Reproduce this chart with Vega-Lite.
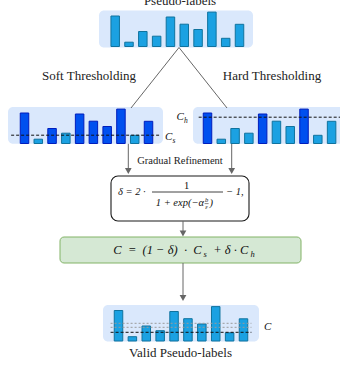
{
  "$schema": "https://vega.github.io/schema/vega-lite/v6.json",
  "width": 340,
  "height": 366,
  "padding": 0,
  "autosize": "none",
  "background": "white",
  "config": {"view": {"stroke": null}, "text": {"font": "Liberation Serif", "color": "#222"}},
  "datasets": {
    "bars": [
      {"panel": "top", "i": 1, "v": 30.5, "selected": "no"},
      {"panel": "top", "i": 2, "v": 4.3, "selected": "no"},
      {"panel": "top", "i": 3, "v": 15, "selected": "no"},
      {"panel": "top", "i": 4, "v": 10.3, "selected": "no"},
      {"panel": "top", "i": 5, "v": 29.5, "selected": "no"},
      {"panel": "top", "i": 6, "v": 22.3, "selected": "no"},
      {"panel": "top", "i": 7, "v": 17, "selected": "no"},
      {"panel": "top", "i": 8, "v": 34.4, "selected": "no"},
      {"panel": "top", "i": 9, "v": 8.2, "selected": "no"},
      {"panel": "top", "i": 10, "v": 22.2, "selected": "no"},
      {"panel": "left", "i": 1, "v": 30.5, "selected": "yes"},
      {"panel": "left", "i": 2, "v": 4.3, "selected": "no"},
      {"panel": "left", "i": 3, "v": 15, "selected": "yes"},
      {"panel": "left", "i": 4, "v": 10.3, "selected": "no"},
      {"panel": "left", "i": 5, "v": 29.5, "selected": "yes"},
      {"panel": "left", "i": 6, "v": 22.3, "selected": "yes"},
      {"panel": "left", "i": 7, "v": 17, "selected": "yes"},
      {"panel": "left", "i": 8, "v": 34.4, "selected": "yes"},
      {"panel": "left", "i": 9, "v": 8.2, "selected": "no"},
      {"panel": "left", "i": 10, "v": 22.2, "selected": "yes"},
      {"panel": "right", "i": 1, "v": 30.5, "selected": "yes"},
      {"panel": "right", "i": 2, "v": 4.3, "selected": "no"},
      {"panel": "right", "i": 3, "v": 15, "selected": "no"},
      {"panel": "right", "i": 4, "v": 10.3, "selected": "no"},
      {"panel": "right", "i": 5, "v": 29.5, "selected": "yes"},
      {"panel": "right", "i": 6, "v": 22.3, "selected": "no"},
      {"panel": "right", "i": 7, "v": 17, "selected": "no"},
      {"panel": "right", "i": 8, "v": 34.4, "selected": "yes"},
      {"panel": "right", "i": 9, "v": 8.2, "selected": "no"},
      {"panel": "right", "i": 10, "v": 22.2, "selected": "no"},
      {"panel": "bottom", "i": 1, "v": 30.5, "selected": "no"},
      {"panel": "bottom", "i": 2, "v": 4.3, "selected": "no"},
      {"panel": "bottom", "i": 3, "v": 15, "selected": "no"},
      {"panel": "bottom", "i": 4, "v": 10.3, "selected": "no"},
      {"panel": "bottom", "i": 5, "v": 29.5, "selected": "no"},
      {"panel": "bottom", "i": 6, "v": 22.3, "selected": "no"},
      {"panel": "bottom", "i": 7, "v": 17, "selected": "no"},
      {"panel": "bottom", "i": 8, "v": 34.4, "selected": "no"},
      {"panel": "bottom", "i": 9, "v": 8.2, "selected": "no"},
      {"panel": "bottom", "i": 10, "v": 22.2, "selected": "no"}
    ],
    "thresholds": [
      {"panel": "left", "t": 8.3, "kind": "main"},
      {"panel": "right", "t": 26.3, "kind": "main"},
      {"panel": "bottom", "t": 17.7, "kind": "aux"},
      {"panel": "bottom", "t": 13.7, "kind": "aux"},
      {"panel": "bottom", "t": 8.7, "kind": "main"}
    ],
    "boxes": [
      {"role": "panel", "x1": 99, "x2": 253, "y1": 10.5, "y2": 47.5},
      {"role": "panel", "x1": 8, "x2": 163, "y1": 107, "y2": 143.8},
      {"role": "panel", "x1": 193, "x2": 352, "y1": 107, "y2": 143.8},
      {"role": "panel", "x1": 103, "x2": 259, "y1": 305, "y2": 341.5},
      {"role": "formula", "x1": 111, "x2": 249, "y1": 176, "y2": 221},
      {"role": "green", "x1": 60, "x2": 301, "y1": 237, "y2": 263}
    ],
    "lines": [
      {"role": "split", "x1": 179, "y1": 47.5, "x2": 131, "y2": 108},
      {"role": "split", "x1": 179, "y1": 47.5, "x2": 227, "y2": 108},
      {"role": "arrow", "x1": 128.3, "y1": 143.8, "x2": 128.3, "y2": 170},
      {"role": "arrow", "x1": 231.7, "y1": 143.8, "x2": 231.7, "y2": 170},
      {"role": "arrow", "x1": 183, "y1": 221, "x2": 183, "y2": 232},
      {"role": "arrow", "x1": 183, "y1": 263, "x2": 183, "y2": 296},
      {"role": "frac", "x1": 152, "y1": 192, "x2": 223, "y2": 192},
      {"role": "smallfrac", "x1": 204.6, "y1": 203.6, "x2": 208.6, "y2": 203.6}
    ],
    "heads": [
      {"x": 128.3, "y": 171},
      {"x": 231.7, "y": 171},
      {"x": 183, "y": 233.5},
      {"x": 183, "y": 298}
    ],
    "texts": [
      {"role": "label", "text": "Pseudo-labels", "x": 180, "y": 4.5},
      {"role": "label", "text": "Soft Thresholding", "x": 89, "y": 80},
      {"role": "label", "text": "Hard Thresholding", "x": 272, "y": 80},
      {"role": "label", "text": "Valid Pseudo-labels", "x": 180.5, "y": 357},
      {"role": "small", "text": "Gradual Refinement", "x": 180, "y": 163.5},
      {"role": "mathL", "text": "δ = 2 ·", "x": 118, "y": 195},
      {"role": "mathL", "text": "− 1,", "x": 226, "y": 195},
      {"role": "mathC", "text": "1", "x": 186.7, "y": 189},
      {"role": "mathR", "text": "1 + exp(−α", "x": 204, "y": 206},
      {"role": "mathL", "text": ")", "x": 209.5, "y": 206},
      {"role": "tiny", "text": "b", "x": 206.6, "y": 202.3},
      {"role": "tiny", "text": "ε", "x": 206.6, "y": 208.6},
      {"role": "mathG", "text": "C\u2002=\u2002(1 − δ)\u2002·\u2002C", "x": 113.3, "y": 254},
      {"role": "subG", "text": "s", "x": 203.5, "y": 257},
      {"role": "mathG", "text": "+ δ · C", "x": 213.3, "y": 254},
      {"role": "subG", "text": "h", "x": 250.5, "y": 257},
      {"role": "mathT", "text": "C", "x": 165, "y": 140},
      {"role": "subT", "text": "s", "x": 172.5, "y": 142.5},
      {"role": "mathT", "text": "C", "x": 176.5, "y": 120},
      {"role": "subT", "text": "h", "x": 184, "y": 122.5},
      {"role": "mathT", "text": "C", "x": 264, "y": 330}
    ]
  },
  "layer": [
    {
      "encoding": {
        "x": {"field": "x1", "type": "quantitative", "scale": {"domain": [0, 340], "zero": false, "nice": false}, "axis": null},
        "y": {"field": "y1", "type": "quantitative", "scale": {"domain": [0, 366], "reverse": true, "zero": false, "nice": false}, "axis": null}
      },
      "layer": [
        {"data": {"name": "boxes"}, "transform": [{"filter": "datum.role === 'panel'"}],
         "mark": {"type": "rect", "fill": "#dae8fc", "cornerRadius": 5},
         "encoding": {"x2": {"field": "x2"}, "y2": {"field": "y2"}}},
        {"data": {"name": "boxes"}, "transform": [{"filter": "datum.role === 'formula'"}],
         "mark": {"type": "rect", "fill": "white", "stroke": "#1a1a1a", "strokeWidth": 1.1, "cornerRadius": 7},
         "encoding": {"x2": {"field": "x2"}, "y2": {"field": "y2"}}},
        {"data": {"name": "boxes"}, "transform": [{"filter": "datum.role === 'green'"}],
         "mark": {"type": "rect", "fill": "#d5e8d4", "stroke": "#82b366", "strokeWidth": 1, "cornerRadius": 4},
         "encoding": {"x2": {"field": "x2"}, "y2": {"field": "y2"}}},
        {"data": {"name": "lines"}, "transform": [{"filter": "datum.role === 'split'"}],
         "mark": {"type": "rule", "color": "#555555", "strokeWidth": 0.9},
         "encoding": {"x2": {"field": "x2"}, "y2": {"field": "y2"}}},
        {"data": {"name": "lines"}, "transform": [{"filter": "datum.role === 'arrow'"}],
         "mark": {"type": "rule", "color": "#666666", "strokeWidth": 1},
         "encoding": {"x2": {"field": "x2"}, "y2": {"field": "y2"}}},
        {"data": {"name": "lines"}, "transform": [{"filter": "datum.role === 'frac'"}],
         "mark": {"type": "rule", "color": "#111111", "strokeWidth": 0.8},
         "encoding": {"x2": {"field": "x2"}, "y2": {"field": "y2"}}},
        {"data": {"name": "lines"}, "transform": [{"filter": "datum.role === 'smallfrac'"}],
         "mark": {"type": "rule", "color": "#111111", "strokeWidth": 0.5},
         "encoding": {"x2": {"field": "x2"}, "y2": {"field": "y2"}}},
        {"data": {"name": "heads"},
         "mark": {"type": "point", "shape": "triangle-down", "filled": true, "color": "#666666", "size": 45, "opacity": 1},
         "encoding": {"x": {"field": "x", "type": "quantitative"}, "y": {"field": "y", "type": "quantitative"}}},
        {"data": {"name": "texts"}, "transform": [{"filter": "datum.role === 'label'"}],
         "mark": {"type": "text", "fontSize": 13, "align": "center", "baseline": "alphabetic"},
         "encoding": {"x": {"field": "x", "type": "quantitative"}, "y": {"field": "y", "type": "quantitative"}, "text": {"field": "text"}}},
        {"data": {"name": "texts"}, "transform": [{"filter": "datum.role === 'small'"}],
         "mark": {"type": "text", "fontSize": 10.5, "align": "center", "baseline": "alphabetic"},
         "encoding": {"x": {"field": "x", "type": "quantitative"}, "y": {"field": "y", "type": "quantitative"}, "text": {"field": "text"}}},
        {"data": {"name": "texts"}, "transform": [{"filter": "datum.role === 'mathL'"}],
         "mark": {"type": "text", "fontSize": 10.5, "fontStyle": "italic", "align": "left", "baseline": "alphabetic", "color": "#111"},
         "encoding": {"x": {"field": "x", "type": "quantitative"}, "y": {"field": "y", "type": "quantitative"}, "text": {"field": "text"}}},
        {"data": {"name": "texts"}, "transform": [{"filter": "datum.role === 'mathC'"}],
         "mark": {"type": "text", "fontSize": 10.5, "align": "center", "baseline": "alphabetic", "color": "#111"},
         "encoding": {"x": {"field": "x", "type": "quantitative"}, "y": {"field": "y", "type": "quantitative"}, "text": {"field": "text"}}},
        {"data": {"name": "texts"}, "transform": [{"filter": "datum.role === 'mathR'"}],
         "mark": {"type": "text", "fontSize": 10.5, "fontStyle": "italic", "align": "right", "baseline": "alphabetic", "color": "#111"},
         "encoding": {"x": {"field": "x", "type": "quantitative"}, "y": {"field": "y", "type": "quantitative"}, "text": {"field": "text"}}},
        {"data": {"name": "texts"}, "transform": [{"filter": "datum.role === 'tiny'"}],
         "mark": {"type": "text", "fontSize": 6.5, "fontStyle": "italic", "align": "center", "baseline": "alphabetic", "color": "#111"},
         "encoding": {"x": {"field": "x", "type": "quantitative"}, "y": {"field": "y", "type": "quantitative"}, "text": {"field": "text"}}},
        {"data": {"name": "texts"}, "transform": [{"filter": "datum.role === 'mathG'"}],
         "mark": {"type": "text", "fontSize": 12.5, "fontStyle": "italic", "align": "left", "baseline": "alphabetic", "color": "#111"},
         "encoding": {"x": {"field": "x", "type": "quantitative"}, "y": {"field": "y", "type": "quantitative"}, "text": {"field": "text"}}},
        {"data": {"name": "texts"}, "transform": [{"filter": "datum.role === 'subG'"}],
         "mark": {"type": "text", "fontSize": 8.5, "fontStyle": "italic", "align": "left", "baseline": "alphabetic", "color": "#111"},
         "encoding": {"x": {"field": "x", "type": "quantitative"}, "y": {"field": "y", "type": "quantitative"}, "text": {"field": "text"}}},
        {"data": {"name": "texts"}, "transform": [{"filter": "datum.role === 'mathT'"}],
         "mark": {"type": "text", "fontSize": 11, "fontStyle": "italic", "align": "left", "baseline": "alphabetic", "color": "#111"},
         "encoding": {"x": {"field": "x", "type": "quantitative"}, "y": {"field": "y", "type": "quantitative"}, "text": {"field": "text"}}},
        {"data": {"name": "texts"}, "transform": [{"filter": "datum.role === 'subT'"}],
         "mark": {"type": "text", "fontSize": 7.5, "fontStyle": "italic", "align": "left", "baseline": "alphabetic", "color": "#111"},
         "encoding": {"x": {"field": "x", "type": "quantitative"}, "y": {"field": "y", "type": "quantitative"}, "text": {"field": "text"}}}
      ]
    },
    {
      "layer": [
        {"data": {"name": "bars"}, "transform": [{"filter": "datum.panel === 'top'"}],
         "mark": {"type": "bar", "width": 8.5, "strokeWidth": 1},
         "encoding": {
           "x": {"field": "i", "type": "quantitative", "scale": {"domain": [1, 10], "range": [110.2, 244.5], "zero": false, "nice": false}, "axis": null},
           "y": {"field": "v", "type": "quantitative", "scale": {"domain": [0, 40], "range": [46.5, 6.5], "nice": false}, "axis": null},
           "fill": {"field": "selected", "type": "nominal", "scale": {"domain": ["no", "yes"], "range": ["#1ba1e2", "#0050ef"]}, "legend": null},
           "stroke": {"field": "selected", "type": "nominal", "scale": {"domain": ["no", "yes"], "range": ["#10739e", "#001dbc"]}, "legend": null}
         }}
      ]
    },
    {
      "layer": [
        {"data": {"name": "bars"}, "transform": [{"filter": "datum.panel === 'left'"}],
         "mark": {"type": "bar", "width": 8.5, "strokeWidth": 1},
         "encoding": {
           "x": {"field": "i", "type": "quantitative", "scale": {"domain": [1, 10], "range": [19.5, 153.5], "zero": false, "nice": false}, "axis": null},
           "y": {"field": "v", "type": "quantitative", "scale": {"domain": [0, 40], "range": [143.5, 103.5], "nice": false}, "axis": null},
           "fill": {"field": "selected", "type": "nominal", "scale": {"domain": ["no", "yes"], "range": ["#1ba1e2", "#0050ef"]}, "legend": null},
           "stroke": {"field": "selected", "type": "nominal", "scale": {"domain": ["no", "yes"], "range": ["#10739e", "#001dbc"]}, "legend": null}
         }},
        {"data": {"name": "thresholds"}, "transform": [{"filter": "datum.panel === 'left'"}],
         "mark": {"type": "rule", "strokeDash": [3, 2], "color": "#111111", "strokeWidth": 1},
         "encoding": {
           "x": {"datum": 0.03, "type": "quantitative", "scale": {"domain": [1, 10], "range": [19.5, 153.5], "zero": false, "nice": false}, "axis": null},
           "x2": {"datum": 10.77},
           "y": {"field": "t", "type": "quantitative", "scale": {"domain": [0, 40], "range": [143.5, 103.5], "nice": false}, "axis": null}
         }}
      ]
    },
    {
      "layer": [
        {"data": {"name": "bars"}, "transform": [{"filter": "datum.panel === 'right'"}],
         "mark": {"type": "bar", "width": 8.5, "strokeWidth": 1},
         "encoding": {
           "x": {"field": "i", "type": "quantitative", "scale": {"domain": [1, 10], "range": [202.5, 336.6], "zero": false, "nice": false}, "axis": null},
           "y": {"field": "v", "type": "quantitative", "scale": {"domain": [0, 40], "range": [143.5, 103.5], "nice": false}, "axis": null},
           "fill": {"field": "selected", "type": "nominal", "scale": {"domain": ["no", "yes"], "range": ["#1ba1e2", "#0050ef"]}, "legend": null},
           "stroke": {"field": "selected", "type": "nominal", "scale": {"domain": ["no", "yes"], "range": ["#10739e", "#001dbc"]}, "legend": null}
         }},
        {"data": {"name": "thresholds"}, "transform": [{"filter": "datum.panel === 'right'"}],
         "mark": {"type": "rule", "strokeDash": [3, 2], "color": "#111111", "strokeWidth": 1},
         "encoding": {
           "x": {"datum": 0.36, "type": "quantitative", "scale": {"domain": [1, 10], "range": [202.5, 336.6], "zero": false, "nice": false}, "axis": null},
           "x2": {"datum": 11},
           "y": {"field": "t", "type": "quantitative", "scale": {"domain": [0, 40], "range": [143.5, 103.5], "nice": false}, "axis": null}
         }}
      ]
    },
    {
      "layer": [
        {"data": {"name": "bars"}, "transform": [{"filter": "datum.panel === 'bottom'"}],
         "mark": {"type": "bar", "width": 8.5, "strokeWidth": 1},
         "encoding": {
           "x": {"field": "i", "type": "quantitative", "scale": {"domain": [1, 10], "range": [113.5, 248.5], "zero": false, "nice": false}, "axis": null},
           "y": {"field": "v", "type": "quantitative", "scale": {"domain": [0, 40], "range": [341, 301], "nice": false}, "axis": null},
           "fill": {"field": "selected", "type": "nominal", "scale": {"domain": ["no", "yes"], "range": ["#1ba1e2", "#0050ef"]}, "legend": null},
           "stroke": {"field": "selected", "type": "nominal", "scale": {"domain": ["no", "yes"], "range": ["#10739e", "#001dbc"]}, "legend": null}
         }},
        {"data": {"name": "thresholds"}, "transform": [{"filter": "datum.panel === 'bottom' && datum.kind === 'aux'"}],
         "mark": {"type": "rule", "strokeDash": [2, 2], "color": "#9a9a9a", "strokeWidth": 1},
         "encoding": {
           "x": {"datum": 0.43, "type": "quantitative", "scale": {"domain": [1, 10], "range": [113.5, 248.5], "zero": false, "nice": false}, "axis": null},
           "x2": {"datum": 10.57},
           "y": {"field": "t", "type": "quantitative", "scale": {"domain": [0, 40], "range": [341, 301], "nice": false}, "axis": null}
         }},
        {"data": {"name": "thresholds"}, "transform": [{"filter": "datum.panel === 'bottom' && datum.kind === 'main'"}],
         "mark": {"type": "rule", "strokeDash": [3, 2], "color": "#111111", "strokeWidth": 1},
         "encoding": {
           "x": {"datum": 0.43, "type": "quantitative", "scale": {"domain": [1, 10], "range": [113.5, 248.5], "zero": false, "nice": false}, "axis": null},
           "x2": {"datum": 10.57},
           "y": {"field": "t", "type": "quantitative", "scale": {"domain": [0, 40], "range": [341, 301], "nice": false}, "axis": null}
         }}
      ]
    }
  ],
  "resolve": {"scale": {"x": "independent", "y": "independent"}}
}
